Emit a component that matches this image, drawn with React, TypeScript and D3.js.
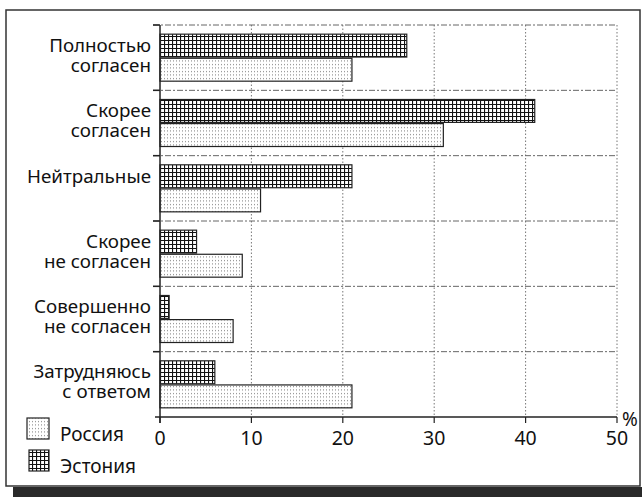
import React from "react";
import * as d3 from "d3";

const categories: string[][] = [
  ["Полностью", "согласен"],
  ["Скорее", "согласен"],
  ["Нейтральные"],
  ["Скорее", "не согласен"],
  ["Совершенно", "не согласен"],
  ["Затрудняюсь", "с ответом"],
];
const estonia = [27, 41, 21, 4, 1, 6];
const russia = [21, 31, 11, 9, 8, 21];
const xTicks = [0, 10, 20, 30, 40, 50];
const seriesNames = ["Россия", "Эстония"];

const W = 642;
const H = 497;
const left = 160;
const right = 617;
const top = 25;
const bottom = 417;
const FONT = "'Noto Sans', 'Open Sans', sans-serif";
const INK = "#111";

export default function App() {
  const x = d3.scaleLinear().domain([0, 50]).range([left, right]);
  const idx = categories.map((_, i) => String(i));
  const y = d3.scaleBand().domain(idx).range([top, bottom]);
  const inner = d3
    .scaleBand()
    .domain(["e", "r"])
    .range([0, y.bandwidth()])
    .paddingOuter(0.38)
    .paddingInner(0.05);
  const separators = d3.range(categories.length + 1).map((i) => top + i * y.bandwidth());

  return (
    <svg
      width={W}
      height={H}
      style={{ position: "absolute", left: 0, top: 0, background: "#fff" }}
      fontFamily={FONT}
    >
      <defs>
        <pattern id="grid" width={4} height={4} patternUnits="userSpaceOnUse" x={left} y={0}>
          <rect width={4} height={4} fill="#fff" />
          <path d="M0,0.5H4M0.5,0V4" stroke="#111" strokeWidth={1.2} />
        </pattern>
        <pattern id="dots" width={3} height={3.5} patternUnits="userSpaceOnUse" x={left} y={0}>
          <rect width={3} height={3.5} fill="#fff" />
          <rect x={1} y={1} width={1} height={1} fill="#777" />
        </pattern>
      </defs>
      {/* frame and shadow */}
      <rect x={13} y={487} width={629} height={10} fill="#2a2a2a" />
      <rect x={6} y={10} width={634} height={476} fill="#fff" stroke="#333" strokeWidth={1.5} />

      {/* vertical dotted gridlines */}
      {xTicks.slice(1).map((t) => (
        <line
          key={"g" + t}
          x1={x(t)}
          x2={x(t)}
          y1={top}
          y2={bottom}
          stroke="#777"
          strokeWidth={1}
          strokeDasharray="1.5,2"
        />
      ))}
      {/* horizontal dashed separators */}
      {separators.slice(0, -1).map((s, i) => (
        <line
          key={"s" + i}
          x1={left - 7}
          x2={right}
          y1={s}
          y2={s}
          stroke="#666"
          strokeWidth={1}
          strokeDasharray="6,2,2,2"
        />
      ))}
      {separators.slice(0, -1).map((s, i) => (
        <line key={"st" + i} x1={left - 7} x2={left} y1={s} y2={s} stroke="#222" strokeWidth={1.5} />
      ))}

      {/* bars */}
      {categories.map((_, i) => {
        const y0 = y(String(i))!;
        return (
          <g key={"b" + i}>
            <rect
              x={x(0)}
              y={y0 + inner("e")!}
              width={x(estonia[i]) - x(0)}
              height={inner.bandwidth()}
              fill="url(#grid)"
              stroke="#222"
              strokeWidth={1.2}
            />
            <rect
              x={x(0)}
              y={y0 + inner("r")!}
              width={x(russia[i]) - x(0)}
              height={inner.bandwidth()}
              fill="url(#dots)"
              stroke="#222"
              strokeWidth={1.2}
            />
          </g>
        );
      })}

      {/* axes */}
      <line x1={left} x2={left} y1={top} y2={bottom + 6} stroke="#222" strokeWidth={1.5} />
      <line x1={left - 5} x2={right} y1={bottom} y2={bottom} stroke="#222" strokeWidth={1.5} />
      {xTicks.map((t) => (
        <g key={"t" + t}>
          <line x1={x(t)} x2={x(t)} y1={bottom} y2={bottom + 6} stroke="#222" strokeWidth={1.2} />
          <text x={x(t)} y={445} textAnchor="middle" fontSize={19.5} fill={INK}>
            {t}
          </text>
        </g>
      ))}
      <text x={630} y={426} textAnchor="middle" fontSize={19} fill={INK}>
        %
      </text>

      {/* category labels */}
      {categories.map((lines, i) => {
        const y0 = y(String(i))!;
        const c = y0 + y.bandwidth() / 2;
        const lh = 20;
        const start =
          lines.length === 1
            ? y0 + inner("e")! + inner.bandwidth() / 2 + 7
            : c - ((lines.length - 1) * lh) / 2 + 4;
        return (
          <g key={"l" + i}>
            {lines.map((ln, j) => (
              <text key={j} x={151} y={start + j * lh} textAnchor="end" fontSize={18.8} fill={INK}>
                {ln}
              </text>
            ))}
          </g>
        );
      })}

      {/* legend */}
      <rect x={27} y={418} width={22} height={21} fill="url(#dots)" stroke="#222" strokeWidth={1.2} />
      <text x={60} y={441} fontSize={19} fill={INK}>
        {seriesNames[0]}
      </text>
      <rect x={29} y={450} width={20} height={21} fill="url(#grid)" stroke="#222" strokeWidth={1.2} />
      <text x={60} y={473} fontSize={19} fill={INK}>
        {seriesNames[1]}
      </text>
    </svg>
  );
}
